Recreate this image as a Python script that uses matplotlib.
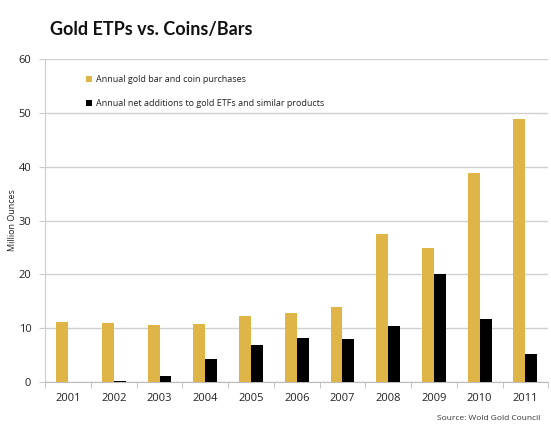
import numpy as np
import matplotlib.pyplot as plt

plt.rcParams['font.family'] = ['Open Sans', 'DejaVu Sans']

years = ['2001', '2002', '2003', '2004', '2005', '2006', '2007', '2008', '2009', '2010', '2011']
bar_coin = [11.1, 10.9, 10.5, 10.8, 12.3, 12.8, 14.0, 27.5, 24.9, 38.8, 48.9]
etf_adds = [0.0, 0.1, 1.1, 4.2, 6.9, 8.2, 7.9, 10.3, 20.0, 11.7, 5.1]

gold = '#e0b547'
x = np.arange(len(years))
w = 0.26

fig = plt.figure(figsize=(5.51, 4.29), dpi=100)
ax = fig.add_axes([0.082, 0.11, 0.913, 0.752])

ax.bar(x - w / 2, bar_coin, w, color=gold, label='Annual gold bar and coin purchases', zorder=3)
ax.bar(x + w / 2, etf_adds, w, color='black', label='Annual net additions to gold ETFs and similar products', zorder=3)

ax.set_xlim(-0.5, len(years) - 0.5)
ax.set_ylim(0, 60)
ax.set_yticks(range(0, 61, 10))
ax.set_xticks(x)
ax.set_xticklabels(years)
ax.set_xticks(np.arange(-0.5, len(years), 1), minor=True)
ax.tick_params(axis='x', which='major', length=0, pad=8, labelsize=8, labelcolor='#222222')
ax.tick_params(axis='x', which='minor', length=4, color='#bbbbbb')
ax.tick_params(axis='y', length=4, color='#cccccc', labelsize=8, labelcolor='#222222', pad=6)
ax.grid(axis='y', color='#d0d0d0', linewidth=1, zorder=0)

for s in ['top', 'right']:
    ax.spines[s].set_visible(False)
ax.spines['left'].set_color('#cccccc')
ax.spines['bottom'].set_color('#bbbbbb')

ax.set_ylabel('Million Ounces', fontsize=6.5, color='#222222', labelpad=1)

leg = ax.legend(loc='upper left', bbox_to_anchor=(0.065, 0.975), frameon=False,
                fontsize=6.5, handlelength=0.7, handleheight=0.7, handletextpad=0.4,
                labelspacing=1.6)
for t in leg.get_texts():
    t.set_color('#222222')

fig.text(0.091, 0.918, 'Gold ETPs vs. Coins/Bars', fontsize=13, fontweight='bold',
         family=['Lato', 'DejaVu Sans'], color='#111111')
fig.text(0.981, 0.022, 'Source: Wold Gold Council', fontsize=6, color='#333333', ha='right')

fig.savefig('out.png', dpi=100)
